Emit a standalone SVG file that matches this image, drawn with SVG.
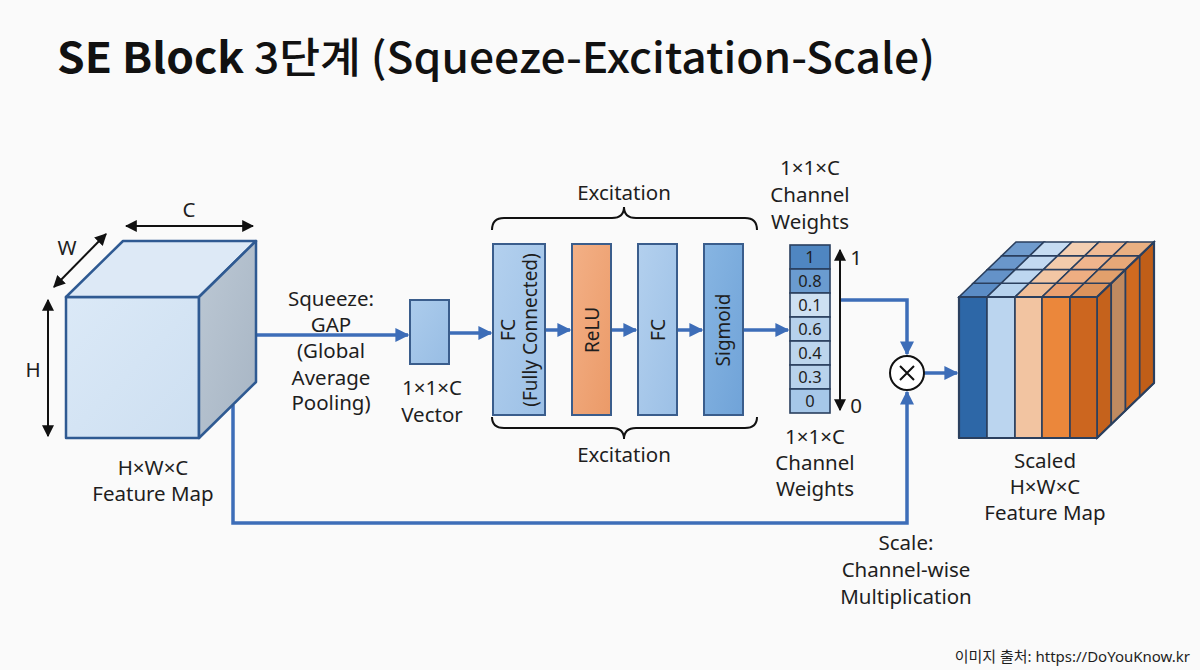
<svg xmlns="http://www.w3.org/2000/svg" width="1200" height="670" viewBox="0 0 1200 670">
<defs>
<style>
.t{font-family:"Noto Sans","Noto Sans CJK KR",sans-serif;font-size:20.5px;fill:#1e1e1e;text-anchor:middle}
.r{font-family:"Noto Sans","Noto Sans CJK KR",sans-serif;font-size:19px;fill:#1e1e1e;text-anchor:middle}
.w{font-family:"Noto Sans","Noto Sans CJK KR",sans-serif;font-size:16.5px;fill:#1e1e1e;text-anchor:middle}
.box{stroke:#3a5d8c;stroke-width:2}
.conn{fill:none;stroke:#3d6db8;stroke-width:3.5}
.dim{fill:none;stroke:#111;stroke-width:2}
.cube{stroke:#2f5a92;stroke-width:2.5;stroke-linejoin:round}
.cell{stroke:#2a3f5e;stroke-width:1.6}
.g{vector-effect:non-scaling-stroke;stroke:#2a3f5e;stroke-width:1.6}
</style>
<marker id="ab" viewBox="0 0 10 10" refX="9" refY="5" markerWidth="4" markerHeight="4" markerUnits="strokeWidth" orient="auto">
<path d="M0,0 L10,5 L0,10 z" fill="#3d6db8"/>
</marker>
<marker id="ak" viewBox="0 0 10 10" refX="9" refY="5" markerWidth="6" markerHeight="6" markerUnits="strokeWidth" orient="auto-start-reverse">
<path d="M0,0 L10,5 L0,10 z" fill="#111"/>
</marker>
<linearGradient id="gFront" x1="0" y1="0" x2="1" y2="1"><stop offset="0" stop-color="#dbe9f7"/><stop offset="1" stop-color="#cddff1"/></linearGradient>
<linearGradient id="gSide" x1="0" y1="0" x2="1" y2="1"><stop offset="0" stop-color="#bcc8d4"/><stop offset="1" stop-color="#a7b5c4"/></linearGradient>
<linearGradient id="gFC" x1="0" y1="0" x2="1" y2="1"><stop offset="0" stop-color="#b3d0ee"/><stop offset="1" stop-color="#9cc0e6"/></linearGradient>
<linearGradient id="gRe" x1="0" y1="0" x2="1" y2="1"><stop offset="0" stop-color="#f3b086"/><stop offset="1" stop-color="#eb9a68"/></linearGradient>
<linearGradient id="gSg" x1="0" y1="0" x2="1" y2="1"><stop offset="0" stop-color="#87b5e2"/><stop offset="1" stop-color="#70a3d8"/></linearGradient>
<linearGradient id="gVec" x1="0" y1="0" x2="1" y2="1"><stop offset="0" stop-color="#acccec"/><stop offset="1" stop-color="#98bde4"/></linearGradient>
</defs>
<rect width="1200" height="670" fill="#fafafa"/>

<text x="57" y="73" font-family="'Noto Sans CJK KR','Noto Sans',sans-serif" font-size="42" font-weight="500" fill="#111" textLength="878" lengthAdjust="spacingAndGlyphs"><tspan font-weight="bold">SE Block</tspan> 3단계 (Squeeze-Excitation-Scale)</text>

<g id="connectors">
<path class="conn" d="M256,335 L408,335" marker-end="url(#ab)"/>
<path class="conn" d="M449,333 L491,333" marker-end="url(#ab)"/>
<path class="conn" d="M545,330 L570,330" marker-end="url(#ab)"/>
<path class="conn" d="M611,330 L636,330" marker-end="url(#ab)"/>
<path class="conn" d="M677,330 L702,330" marker-end="url(#ab)"/>
<path class="conn" d="M743,330 L788,330" marker-end="url(#ab)"/>
<path class="conn" d="M840,300 L907,300 L907,354" marker-end="url(#ab)"/>
<path class="conn" d="M233,405 L233,523 L907,523 L907,392" marker-end="url(#ab)"/>
<path class="conn" d="M924,373 L957,373" marker-end="url(#ab)"/>
</g>

<g id="input-cube">
<rect class="cube" x="66" y="297" width="133" height="141" fill="url(#gFront)"/>
<polygon class="cube" points="66,297 199,297 256,241 123,241" fill="#dde9f6"/>
<polygon class="cube" points="199,297 256,241 256,382 199,438" fill="url(#gSide)"/>
<path class="dim" d="M126,226 L253,226" marker-start="url(#ak)" marker-end="url(#ak)"/>
<path class="dim" d="M54,287 L106,234" marker-start="url(#ak)" marker-end="url(#ak)"/>
<path class="dim" d="M48,300 L48,436" marker-start="url(#ak)" marker-end="url(#ak)"/>
<text class="t" x="189" y="217">C</text>
<text class="t" x="67" y="255">W</text>
<text class="t" x="33" y="377">H</text>
<text class="t" x="153" y="475">H×W×C</text>
<text class="t" x="153" y="501">Feature Map</text>
</g>

<g id="squeeze-label">
<text class="t" x="331" y="306">Squeeze:</text>
<text class="t" x="331" y="332">GAP</text>
<text class="t" x="331" y="358">(Global</text>
<text class="t" x="331" y="385">Average</text>
<text class="t" x="331" y="410">Pooling)</text>
</g>

<g id="vector">
<rect class="box" x="410" y="300" width="39" height="64" fill="url(#gVec)"/>
<text class="t" x="432" y="395">1×1×C</text>
<text class="t" x="432" y="422">Vector</text>
</g>

<g id="fc1">
<rect class="box" x="493" y="244" width="52" height="171" fill="url(#gFC)"/>
<text class="r" transform="translate(508,330) rotate(-90)" y="7" font-size="20.5">FC</text>
<text class="r" transform="translate(530,330) rotate(-90)" y="7">(Fully Connected)</text>
</g>
<g id="relu">
<rect class="box" x="572" y="244" width="39" height="171" fill="url(#gRe)"/>
<text class="r" transform="translate(592,330) rotate(-90)" y="7">ReLU</text>
</g>
<g id="fc2">
<rect class="box" x="638" y="244" width="39" height="171" fill="url(#gFC)"/>
<text class="r" transform="translate(658,330) rotate(-90)" y="7" font-size="20.5">FC</text>
</g>
<g id="sigmoid">
<rect class="box" x="704" y="244" width="39" height="171" fill="url(#gSg)"/>
<text class="r" transform="translate(723,330) rotate(-90)" y="7">Sigmoid</text>
</g>

<g id="excitation-braces">
<path class="dim" d="M492,230 Q492,218 504,218 L612,218 Q624,218 624,207 Q624,218 636,218 L745,218 Q757,218 757,230"/>
<path class="dim" d="M492,417 Q492,428 504,428 L612,428 Q624,428 624,439 Q624,428 636,428 L745,428 Q757,428 757,417"/>
<text class="t" x="624" y="200">Excitation</text>
<text class="t" x="624" y="462">Excitation</text>
</g>

<g id="weights">
<rect class="cell" x="790" y="245" width="40" height="24" fill="#4f86c1"/>
<rect class="cell" x="790" y="269" width="40" height="24" fill="#6a9bd0"/>
<rect class="cell" x="790" y="293" width="40" height="24" fill="#cde0f2"/>
<rect class="cell" x="790" y="317" width="40" height="24" fill="#b6d1ec"/>
<rect class="cell" x="790" y="341" width="40" height="24" fill="#bcd5ed"/>
<rect class="cell" x="790" y="365" width="40" height="24" fill="#b8d2ec"/>
<rect class="cell" x="790" y="389" width="40" height="24" fill="#a6c7e8"/>
<text class="w" x="810" y="263">1</text>
<text class="w" x="810" y="287">0.8</text>
<text class="w" x="810" y="311">0.1</text>
<text class="w" x="810" y="335">0.6</text>
<text class="w" x="810" y="359">0.4</text>
<text class="w" x="810" y="383">0.3</text>
<text class="w" x="810" y="407">0</text>
<path class="dim" d="M840,250 L840,410" marker-start="url(#ak)" marker-end="url(#ak)"/>
<text class="t" x="856" y="265" font-size="22">1</text>
<text class="t" x="856" y="413" font-size="22">0</text>
<text class="t" x="810" y="175">1×1×C</text>
<text class="t" x="810" y="202">Channel</text>
<text class="t" x="810" y="229">Weights</text>
<text class="t" x="815" y="444">1×1×C</text>
<text class="t" x="815" y="470">Channel</text>
<text class="t" x="815" y="496">Weights</text>
</g>

<g id="multiply">
<circle cx="907" cy="373" r="17" fill="#fff" stroke="#111" stroke-width="2"/>
<path d="M900,366 L914,380 M914,366 L900,380" stroke="#111" stroke-width="2" fill="none"/>
<text class="t" x="906" y="550">Scale:</text>
<text class="t" x="906" y="577">Channel-wise</text>
<text class="t" x="906" y="604">Multiplication</text>
</g>

<g id="output-cube">
<g transform="matrix(1.036,-1,0,1,1097,297)">
<rect class="g" x="0" y="0" width="13.75" height="141" fill="#c5621c"/>
<rect class="g" x="13.75" y="0" width="13.75" height="141" fill="#c08a60"/>
<rect class="g" x="27.5" y="0" width="13.75" height="141" fill="#d06a20"/>
<rect class="g" x="41.25" y="0" width="13.75" height="141" fill="#c05e18"/>
</g>
<g transform="matrix(1,0,1.036,-1,959,297)">
<rect class="g" x="0" y="0" width="28" height="13.75" fill="#5b8cc5"/>
<rect class="g" x="0" y="13.75" width="28" height="13.75" fill="#6492c8"/>
<rect class="g" x="0" y="27.5" width="28" height="13.75" fill="#6a97cb"/>
<rect class="g" x="0" y="41.25" width="28" height="13.75" fill="#6f9bcd"/>
<rect class="g" x="28" y="0" width="28" height="13.75" fill="#b6d2ee"/>
<rect class="g" x="28" y="13.75" width="28" height="13.75" fill="#bdd6f0"/>
<rect class="g" x="28" y="27.5" width="28" height="13.75" fill="#c2d9f1"/>
<rect class="g" x="28" y="41.25" width="28" height="13.75" fill="#c6dcf2"/>
<rect class="g" x="56" y="0" width="27" height="13.75" fill="#f0be98"/>
<rect class="g" x="56" y="13.75" width="27" height="13.75" fill="#f2c6a4"/>
<rect class="g" x="56" y="27.5" width="27" height="13.75" fill="#f3cbab"/>
<rect class="g" x="56" y="41.25" width="27" height="13.75" fill="#f4cfb2"/>
<rect class="g" x="83" y="0" width="28" height="13.75" fill="#eba070"/>
<rect class="g" x="83" y="13.75" width="28" height="13.75" fill="#eeae82"/>
<rect class="g" x="83" y="27.5" width="28" height="13.75" fill="#f0b58d"/>
<rect class="g" x="83" y="41.25" width="28" height="13.75" fill="#f1bb95"/>
<rect class="g" x="111" y="0" width="27" height="13.75" fill="#dc935c"/>
<rect class="g" x="111" y="13.75" width="27" height="13.75" fill="#e2a06c"/>
<rect class="g" x="111" y="27.5" width="27" height="13.75" fill="#e6a878"/>
<rect class="g" x="111" y="41.25" width="27" height="13.75" fill="#e9b082"/>
</g>
<rect class="cell" x="959" y="297" width="28" height="141" fill="#2d67a7"/>
<rect class="cell" x="987" y="297" width="28" height="141" fill="#bbd5ef"/>
<rect class="cell" x="1015" y="297" width="27" height="141" fill="#f2c4a1"/>
<rect class="cell" x="1042" y="297" width="28" height="141" fill="#eb873b"/>
<rect class="cell" x="1070" y="297" width="27" height="141" fill="#cc661f"/>
<polygon points="959,297 1097,297 1154,242 1154,383 1097,438 959,438" fill="none" stroke="#2a3f5e" stroke-width="2.2" stroke-linejoin="round"/>
<text class="t" x="1045" y="468">Scaled</text>
<text class="t" x="1045" y="494">H×W×C</text>
<text class="t" x="1045" y="520">Feature Map</text>
</g>

<text x="1190" y="662" font-family="'Noto Sans','Noto Sans CJK KR',sans-serif" font-size="15" fill="#1e1e1e" text-anchor="end">이미지 출처: https://DoYouKnow.kr</text>
</svg>
